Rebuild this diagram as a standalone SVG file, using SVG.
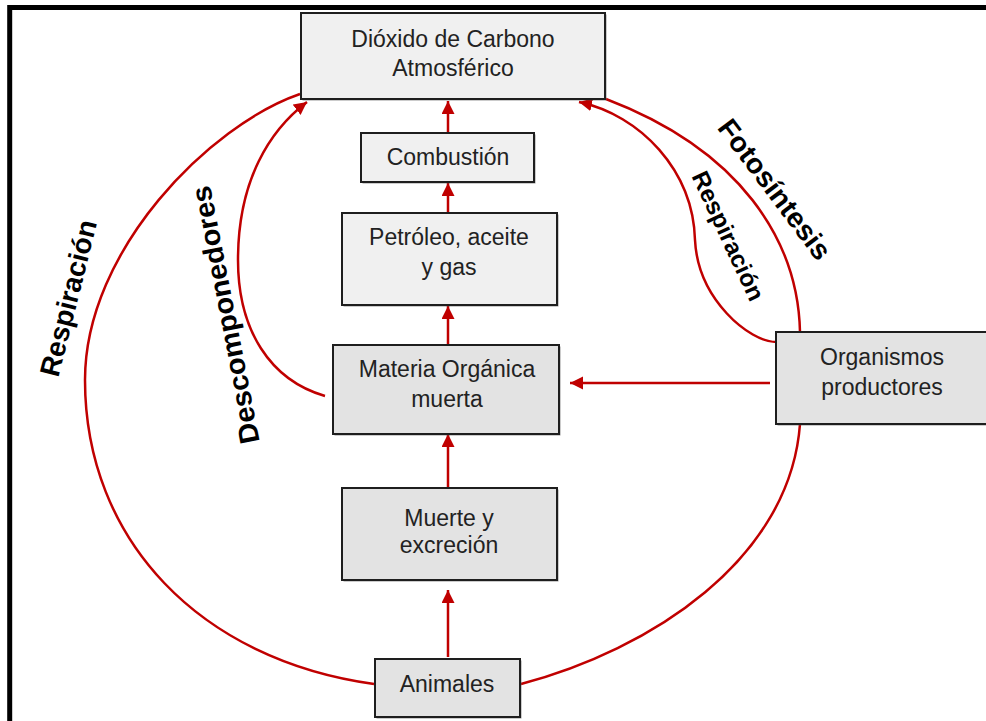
<svg xmlns="http://www.w3.org/2000/svg" width="986" height="721" viewBox="0 0 986 721">
<style>
.box{stroke:#1e1e1e;stroke-width:2}
.shadow{fill:#555;opacity:0.6}
.light{fill:#f0f0f0}
.dark{fill:#e3e3e3}
.t{font-family:"Liberation Sans",Arial,sans-serif;font-size:23px;fill:#222;text-anchor:middle}
.lbl{font-family:"Liberation Sans",Arial,sans-serif;font-weight:bold;fill:#000;text-anchor:middle}
.c{fill:none;stroke:#c00000;stroke-width:2.5}
</style>
<defs>
<marker id="ah" markerUnits="userSpaceOnUse" markerWidth="14" markerHeight="14" refX="13" refY="6.5" orient="auto">
<path d="M0,0 L13,6.5 L0,13 z" fill="#c00000"/>
</marker>
</defs>
<rect x="0" y="0" width="986" height="721" fill="#fff"/>
<path d="M9.7,721 L9.7,7.5 L986,7.5" fill="none" stroke="#000" stroke-width="5"/>

<g id="connectors">
<path class="c" d="M448,133 L448,101" marker-end="url(#ah)"/>
<path class="c" d="M448,213 L448,183" marker-end="url(#ah)"/>
<path class="c" d="M448,345 L448,306" marker-end="url(#ah)"/>
<path class="c" d="M448,488 L448,434" marker-end="url(#ah)"/>
<path class="c" d="M448,657 L448,590" marker-end="url(#ah)"/>
<path class="c" d="M770,383 L570,383" marker-end="url(#ah)"/>
<path class="c" d="M374,684 C200,660 85,540 85,380 C85,250 210,125 300,94"/>
<path class="c" d="M521,684 C650,650 790,560 800,424"/>
<path class="c" d="M800,332 C798,240 740,150 606,99"/>
<path class="c" d="M776,342 C750,342 698,300 695,240 C693,170 640,115 579,102" marker-end="url(#ah)"/>
<path class="c" d="M325,396 C270,380 238,330 238,260 C238,180 270,130 307,102" marker-end="url(#ah)"/>
</g>

<g id="co2">
<rect class="shadow" x="302.5" y="14.5" width="304" height="86"/>
<rect class="box light" x="301" y="13" width="304" height="86"/>
<text class="t" x="453" y="47">Dióxido de Carbono</text>
<text class="t" x="453" y="76">Atmosférico</text>
</g>
<g id="combustion">
<rect class="shadow" x="362.5" y="134.5" width="173" height="49"/>
<rect class="box light" x="361" y="133" width="173" height="49"/>
<text class="t" x="448" y="165">Combustión</text>
</g>
<g id="petroleo">
<rect class="shadow" x="343.5" y="214.5" width="215" height="92"/>
<rect class="box light" x="342" y="213" width="215" height="92"/>
<text class="t" x="449" y="245">Petróleo, aceite</text>
<text class="t" x="449" y="275">y gas</text>
</g>
<g id="materia">
<rect class="shadow" x="334.5" y="346.5" width="226" height="89"/>
<rect class="box dark" x="333" y="345" width="226" height="89"/>
<text class="t" x="447" y="377">Materia Orgánica</text>
<text class="t" x="447" y="407">muerta</text>
</g>
<g id="muerte">
<rect class="shadow" x="343.5" y="489.5" width="215" height="92"/>
<rect class="box dark" x="342" y="488" width="215" height="92"/>
<text class="t" x="449" y="526">Muerte y</text>
<text class="t" x="449" y="553">excreción</text>
</g>
<g id="animales">
<rect class="shadow" x="376.5" y="660.5" width="145" height="58"/>
<rect class="box dark" x="375" y="659" width="145" height="58"/>
<text class="t" x="447" y="692">Animales</text>
</g>
<g id="organismos">
<rect class="shadow" x="777.5" y="333.5" width="215" height="92"/>
<rect class="box dark" x="776" y="332" width="215" height="92"/>
<text class="t" x="882" y="365">Organismos</text>
<text class="t" x="882" y="395">productores</text>
</g>

<g id="labels">
<text class="lbl" font-size="28" textLength="160" lengthAdjust="spacingAndGlyphs" transform="translate(68,298) rotate(-76)" x="0" y="10">Respiración</text>
<text class="lbl" font-size="28" textLength="262" lengthAdjust="spacingAndGlyphs" transform="translate(225,315) rotate(-101)" x="0" y="10">Descomponedores</text>
<text class="lbl" font-size="28" textLength="168" lengthAdjust="spacingAndGlyphs" transform="translate(775,189) rotate(53)" x="0" y="10">Fotosíntesis</text>
<text class="lbl" font-size="24" textLength="140" lengthAdjust="spacingAndGlyphs" transform="translate(728,236) rotate(65)" x="0" y="8">Respiración</text>
</g>
</svg>
